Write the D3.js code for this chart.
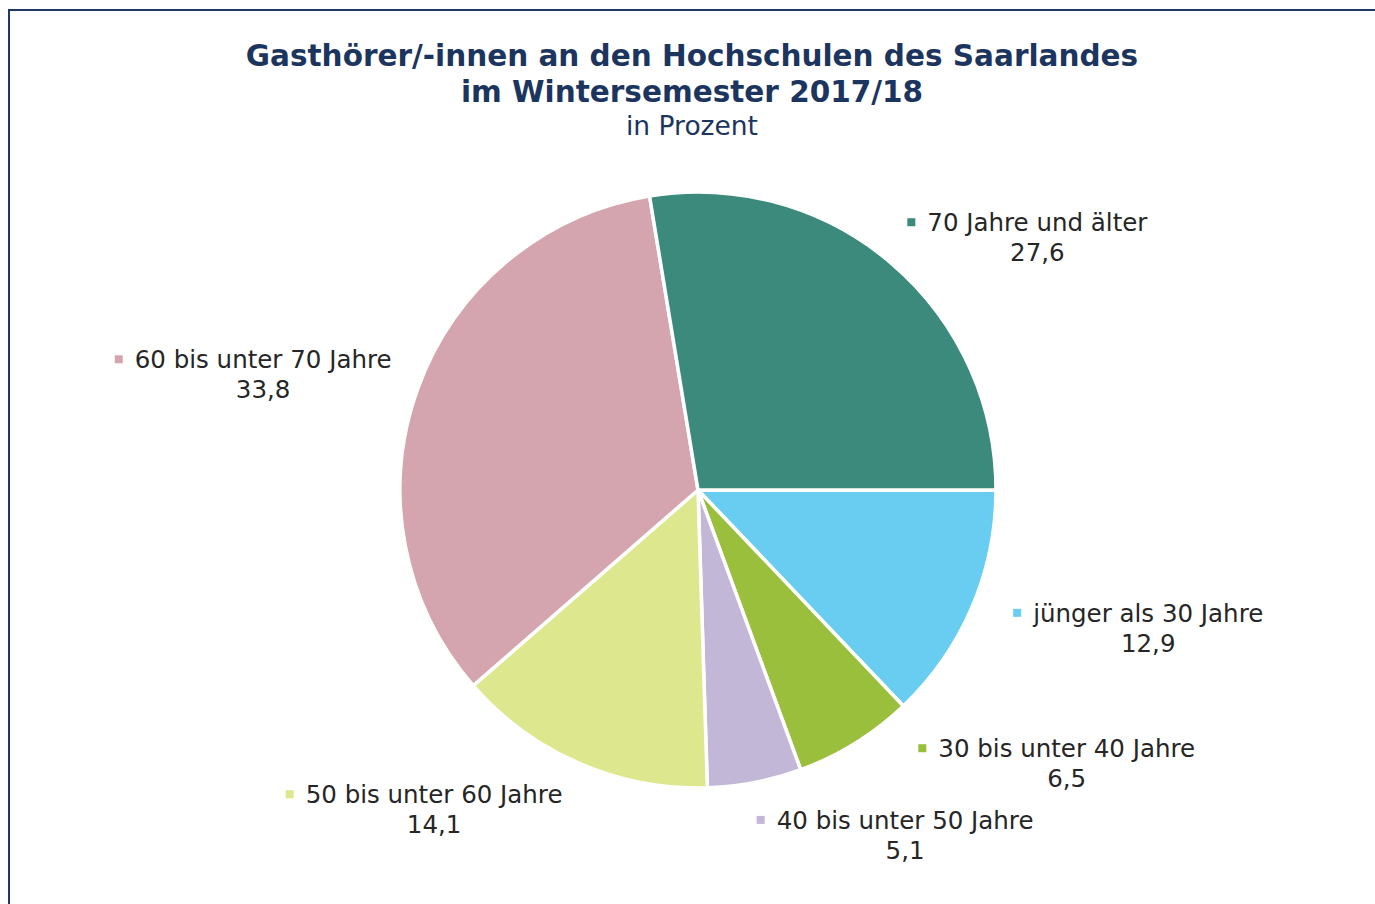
<!DOCTYPE html>
<html>
<head>
<meta charset="utf-8">
<script src="https://cdn.jsdelivr.net/npm/d3@7/dist/d3.min.js"></script>
<style>
  html, body { margin: 0; padding: 0; background: #fff; }
  svg { display: block; font-family: "DejaVu Sans", Verdana, sans-serif; }
</style>
</head>
<body>
<div id="chart"></div>
<script>
// Data: Gasthörer/-innen nach Altersgruppen, WS 2017/18 (in %)
const categories = [
  'jünger als 30 Jahre',
  '30 bis unter 40 Jahre',
  '40 bis unter 50 Jahre',
  '50 bis unter 60 Jahre',
  '60 bis unter 70 Jahre',
  '70 Jahre und älter'
];
const shares = [12.9, 6.5, 5.1, 14.1, 33.8, 27.6];
const sliceColors = ['#68cdf0', '#9abf3d', '#c3b7d8', '#dde78e', '#d4a5ae', '#3c8a7c'];
const titleLines = ['Gasthörer/-innen an den Hochschulen des Saarlandes', 'im Wintersemester 2017/18'];
const subtitle = 'in Prozent';

// Layout: label placement relative to slice middle (deg) and radius multiple
const labelNudge = [-6.2, -21.6, -20, 16, -4.9, 13];
const labelReach = [1.58, 1.54, 1.35, 1.39, 1.51, 1.42];

const width = 1375, height = 904,
  cx = 698, cy = 490, radius = 298,
  labelSize = 24.5;

const svg = d3.select('#chart').append('svg')
  .attr('width', width)
  .attr('height', height);

// outer frame
svg.append('rect')
  .attr('x', 9).attr('y', 10)
  .attr('width', width + 20).attr('height', height + 20)
  .attr('fill', 'none')
  .attr('stroke', '#1f3864')
  .attr('stroke-width', 2);

// titles
const title = svg.append('g').attr('fill', '#1c355e').attr('text-anchor', 'middle');
title.selectAll('text.t')
  .data(titleLines)
  .enter().append('text')
  .attr('class', 't')
  .attr('x', 692)
  .attr('y', (d, i) => 66 + i * 36)
  .attr('font-size', 29.5)
  .attr('font-weight', 'bold')
  .text(d => d);
title.append('text')
  .attr('x', 692)
  .attr('y', 135)
  .attr('font-size', 26.5)
  .text(subtitle);

const rows = categories.map((c, i) => ({name: c, value: shares[i], i: i}));

const pie = d3.pie()
  .value(d => d.value)
  .sort(null)
  .startAngle(Math.PI / 2)
  .endAngle(Math.PI / 2 + 2 * Math.PI);

const arc = d3.arc().innerRadius(0).outerRadius(radius);
const arcs = pie(rows);

const g = svg.append('g').attr('transform', 'translate(' + cx + ',' + cy + ')');

g.selectAll('path.slice')
  .data(arcs)
  .enter().append('path')
  .attr('class', 'slice')
  .attr('d', arc)
  .attr('fill', d => sliceColors[d.data.i])
  .attr('stroke', '#fff')
  .attr('stroke-width', 3.5)
  .attr('stroke-linejoin', 'round');

// data labels: marker + category, value centered below
const fmt = v => d3.format('.1f')(v).replace('.', ',');

g.selectAll('g.label')
  .data(arcs)
  .enter().append('g')
  .attr('class', 'label')
  .each(function(d) {
    const k = d.data.i,
      a = (d.startAngle + d.endAngle) / 2 + labelNudge[k] * Math.PI / 180,
      r = radius * labelReach[k],
      x = Math.sin(a) * r,
      y = -Math.cos(a) * r;
    const cell = d3.select(this).attr('transform', 'translate(' + x + ',' + y + ')');
    const name = cell.append('text')
      .attr('x', 0)
      .attr('y', -6)
      .attr('text-anchor', 'middle')
      .attr('font-size', labelSize)
      .attr('fill', '#262626')
      .text(d.data.name);
    cell.append('text')
      .attr('x', 0)
      .attr('y', 24)
      .attr('text-anchor', 'middle')
      .attr('font-size', labelSize)
      .attr('fill', '#262626')
      .text(fmt(d.data.value));
    const w = name.node().getComputedTextLength();
    cell.append('rect')
      .attr('x', -w / 2 - 20)
      .attr('y', -19)
      .attr('width', 8)
      .attr('height', 8)
      .attr('fill', sliceColors[k]);
  });
</script>
</body>
</html>
